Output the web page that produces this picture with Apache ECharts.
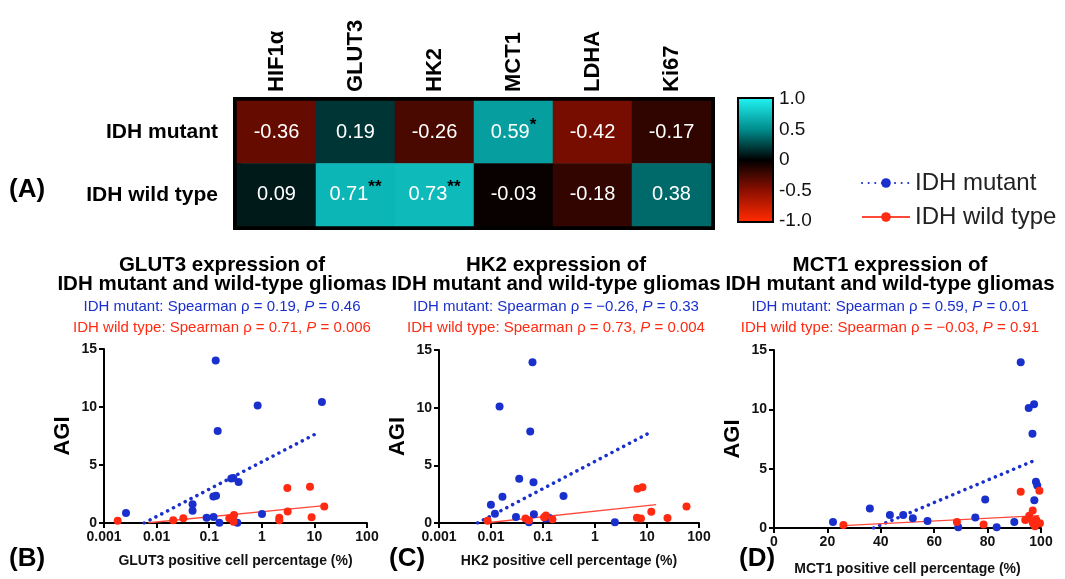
<!DOCTYPE html>
<html lang="en">
<head>
    <meta charset="UTF-8">
    <title>AGI correlations</title>
    <script src="https://cdn.jsdelivr.net/npm/echarts@6/dist/echarts.min.js"></script>
</head>
<body style="margin: 0; background: #fff">
<div id="container" style="width:1065px;height:579px;"></div>
<script>
    // heatmap (A)
    var genes = ['HIF1α', 'GLUT3', 'HK2', 'MCT1', 'LDHA', 'Ki67'];
    var groups = ['IDH mutant', 'IDH wild type'];
    var rhoMutant = [-0.36, 0.19, -0.26, 0.59, -0.42, -0.17];
    var rhoWild = [0.09, 0.71, 0.73, -0.03, -0.18, 0.38];
    var starsMutant = ['', '', '', '*', '', ''];
    var starsWild = ['', '**', '**', '', '', ''];

    // scatter panels: [positive cell %, AGI]
    var glut3Mutant = [[0.00262, 0.86], [0.0483, 1.61], [0.0483, 1.06], [0.0893, 0.46], [0.121, 0.52],
        [0.12, 2.29], [0.135, 2.35], [0.156, 0.03], [0.263, 3.84], [0.287, 3.87], [0.362, 3.53],
        [0.279, 0.40], [0.342, 0.03], [1.01, 0.77], [0.133, 14.0], [0.834, 10.12], [13.9, 10.44], [0.145, 7.94]];
    var glut3Wild = [[0.00182, 0.2], [0.0207, 0.23], [0.0322, 0.40], [0.241, 0.40], [0.296, 0.69],
        [0.29, 0.11], [2.15, 0.46], [2.15, 0.23], [3.06, 3.01], [3.1, 1.0], [8.24, 3.13], [8.85, 0.49], [15.4, 1.43]];
    var glut3FitMutant = [[0.0058, 0], [12.6, 7.86]];
    var glut3FitWild = [[0.007, 0.02], [15.4, 1.5]];

    var hk2Mutant = [[0.00996, 1.59], [0.0166, 2.28], [0.0119, 0.81], [0.0349, 3.84], [0.0656, 3.53],
        [0.0302, 0.52], [0.0668, 0.75], [0.0536, 0.06], [0.112, 0.40], [0.133, 0.43], [0.122, 0.45],
        [0.248, 2.34], [2.41, 0.06], [0.0146, 10.1], [0.0628, 13.93], [0.0568, 7.93]];
    var hk2Wild = [[0.0086, 0.2], [0.046, 0.40], [0.0536, 0.23], [0.114, 0.64], [0.152, 0.32], [0.105, 0.5],
        [6.56, 2.98], [8.18, 3.09], [6.4, 0.46], [7.64, 0.38], [12.1, 0.98], [24.8, 0.43], [57.5, 1.42]];
    var hk2FitMutant = [[0.0055, 0], [11.5, 7.85]];
    var hk2FitWild = [[0.0092, 0.04], [15.0, 1.59]];

    var mct1Mutant = [[22.1, 0.5], [35.9, 1.64], [43.4, 1.1], [48.4, 1.1], [52, 0.82], [57.5, 0.58],
        [69, 0.07], [75.4, 0.88], [79.1, 2.4], [83.4, 0.07], [90, 0.5], [92.4, 13.96], [95.4, 10.11],
        [97.4, 10.42], [96.8, 7.95], [98.1, 3.9], [98.6, 3.58], [97.5, 2.34]];
    var mct1Wild = [[26, 0.25], [68.5, 0.5], [78.5, 0.3], [92.4, 3.06], [94.1, 0.68], [95.6, 1.04],
        [96.9, 1.47], [96.8, 0.52], [97.1, 0.36], [97.75, 0.14], [99.4, 3.13], [99.6, 0.4], [98.2, 0.7]];
    var mct1FitMutant = [[37.3, 0], [98.3, 5.76]];
    var mct1FitWild = [[25.9, 0.2], [99.3, 1.04]];

    var panelTitles = ['GLUT3 expression of\nIDH mutant and wild-type gliomas',
        'HK2 expression of\nIDH mutant and wild-type gliomas',
        'MCT1 expression of\nIDH mutant and wild-type gliomas'];
    var statsMutant = [['0.19', '0.46'], ['\u22120.26', '0.33'], ['0.59', '0.01']];
    var statsWild = [['0.71', '0.006'], ['0.73', '0.004'], ['\u22120.03', '0.91']];
    var xNames = ['GLUT3 positive cell percentage (%)', 'HK2 positive cell percentage (%)',
        'MCT1 positive cell percentage (%)'];
    var logTicks = [0.001, 0.01, 0.1, 1, 10, 100];

    var BLUE = '#1a30cc';
    var RED = '#ff2a12';
    var FONT = 'Liberation Sans, Arial, sans-serif';
    var NARROW = 'Liberation Sans Narrow, Liberation Sans, Arial, sans-serif';

    var heatData = [];
    genes.forEach(function (g, i) {
        heatData.push([i, 0, rhoMutant[i]]);
        heatData.push([i, 1, rhoWild[i]]);
    });

    function heatLabel(p) {
        var s = (p.value[1] === 0 ? starsMutant : starsWild)[p.value[0]];
        var t = '{v|' + p.value[2].toFixed(2) + '}';
        return s ? t + '{s|' + s + '}' : t;
    }

    var dom = document.getElementById('container');
    var myChart = echarts.init(dom, null, { renderer: 'canvas' });

    var titles = [];
    var centers = [217, 551, 885];
    panelTitles.forEach(function (t, i) {
        titles.push({
            text: t,
            left: centers[i],
            top: 251,
            textAlign: 'center',
            itemGap: 0,
            textStyle: { fontFamily: FONT, fontSize: 20.5, fontWeight: 'bold', lineHeight: 19, color: '#000' },
            subtext: '{b|IDH mutant: Spearman ρ = ' + statsMutant[i][0] + ', }{bi|P}{b| = ' + statsMutant[i][1] + '}\n' +
                '{r|IDH wild type: Spearman ρ = ' + statsWild[i][0] + ', }{ri|P}{r| = ' + statsWild[i][1] + '}',
            subtextStyle: {
                lineHeight: 21,
                rich: {
                    b: { color: BLUE, fontSize: 15, fontFamily: FONT, lineHeight: 21 },
                    bi: { color: BLUE, fontSize: 15, fontFamily: FONT, fontStyle: 'italic', lineHeight: 21 },
                    r: { color: RED, fontSize: 15, fontFamily: FONT, lineHeight: 21 },
                    ri: { color: RED, fontSize: 15, fontFamily: FONT, fontStyle: 'italic', lineHeight: 21 }
                }
            }
        });
    });
    [['(A)', 4, 172], ['(B)', 4, 541], ['(C)', 384, 541], ['(D)', 734, 541]].forEach(function (l) {
        titles.push({
            text: l[0], left: l[1], top: l[2],
            textStyle: { fontFamily: FONT, fontSize: 26, fontWeight: 'bold', color: '#000' }
        });
    });

    var scatterGrids = [
        { left: 104, top: 349, width: 263, height: 174 },
        { left: 439, top: 350, width: 260, height: 173 },
        { left: 774, top: 350, width: 267, height: 178 }
    ];

    function valueAxisStyle() {
        return {
            axisLine: { show: true, onZero: false, lineStyle: { color: '#000', width: 2 } },
            axisTick: { show: true, length: 5, lineStyle: { color: '#000', width: 2 } },
            axisLabel: { fontFamily: FONT, fontSize: 14, fontWeight: 'bold', color: '#111', margin: 7 },
            splitLine: { show: false }
        };
    }

    var xAxes = [
        {
            type: 'category', gridIndex: 0, data: genes, position: 'top',
            axisLine: { show: false }, axisTick: { show: false },
            axisLabel: { rotate: -90, margin: 9, fontFamily: NARROW, fontSize: 22, fontWeight: 'bold', color: '#000' }
        },
        { type: 'category', gridIndex: 1, data: ['cb'], show: false }
    ];
    var yAxes = [
        {
            type: 'category', gridIndex: 0, data: groups, inverse: true,
            axisLine: { show: false }, axisTick: { show: false },
            axisLabel: { margin: 19, fontFamily: NARROW, fontSize: 21, fontWeight: 'bold', color: '#000' }
        },
        {
            type: 'value', gridIndex: 1, position: 'right', min: -1, max: 1, interval: 0.5,
            axisLine: { show: false },
            axisTick: { show: true, inside: true, length: 5, lineStyle: { color: '#000', width: 2 } },
            axisLabel: {
                margin: 7, fontFamily: FONT, fontSize: 19, color: '#111',
                formatter: function (v) { return v === 0 ? '0' : v.toFixed(1); }
            },
            splitLine: { show: false }
        }
    ];

    scatterGrids.forEach(function (g, i) {
        var xa = valueAxisStyle();
        xa.gridIndex = i + 2;
        xa.name = xNames[i];
        xa.nameLocation = 'middle';
        xa.nameGap = 31;
        xa.nameTextStyle = { fontFamily: FONT, fontSize: 14, fontWeight: 'bold', color: '#111' };
        if (i < 2) {
            xa.type = 'log';
            xa.logBase = 10;
            xa.min = 0.001;
            xa.max = 100;
            xa.axisLabel.formatter = function (v) {
                var e = Math.round(Math.log10(v));
                return String(logTicks[e + 3]);
            };
        } else {
            xa.type = 'value';
            xa.min = 0;
            xa.max = 100;
            xa.interval = 20;
            xa.nameGap = 34;
        }
        xAxes.push(xa);

        var ya = valueAxisStyle();
        ya.gridIndex = i + 2;
        ya.type = 'value';
        ya.min = 0;
        ya.max = 15;
        ya.interval = 5;
        ya.name = 'AGI';
        ya.nameLocation = 'middle';
        ya.nameGap = 30;
        ya.nameTextStyle = { fontFamily: FONT, fontSize: 22, fontWeight: 'bold', color: '#000' };
        yAxes.push(ya);
    });

    var series = [
        {
            type: 'heatmap', xAxisIndex: 0, yAxisIndex: 0, data: heatData,
            label: {
                show: true, formatter: heatLabel,
                rich: {
                    v: { color: '#fff', fontFamily: NARROW, fontSize: 20 },
                    s: { color: '#000', fontFamily: FONT, fontSize: 17, fontWeight: 'bold', padding: [0, 0, 14, 0] }
                }
            },
            emphasis: { disabled: true }
        },
        {
            type: 'bar', xAxisIndex: 1, yAxisIndex: 1, stack: 'cb', barWidth: '100%', data: [1], silent: true,
            itemStyle: {
                color: new echarts.graphic.LinearGradient(0, 0, 0, 1, [
                    { offset: 0, color: '#20f0f0' }, { offset: 0.5, color: '#008c8c' }, { offset: 1, color: '#000' }])
            }
        },
        {
            type: 'bar', xAxisIndex: 1, yAxisIndex: 1, stack: 'cb', barWidth: '100%', data: [-1], silent: true,
            itemStyle: {
                color: new echarts.graphic.LinearGradient(0, 0, 0, 1, [
                    { offset: 0, color: '#000' }, { offset: 0.5, color: '#8c0f00' }, { offset: 1, color: '#ff2a00' }])
            }
        }
    ];

    var panels = [
        [glut3FitMutant, glut3FitWild, glut3Mutant, glut3Wild],
        [hk2FitMutant, hk2FitWild, hk2Mutant, hk2Wild],
        [mct1FitMutant, mct1FitWild, mct1Mutant, mct1Wild]
    ];
    panels.forEach(function (p, i) {
        var ax = i + 2;
        series.push({
            type: 'line', name: 'IDH mutant', xAxisIndex: ax, yAxisIndex: ax, data: p[0],
            symbol: 'circle', symbolSize: 9, showSymbol: false, silent: true, z: 3,
            itemStyle: { color: BLUE },
            lineStyle: { color: BLUE, width: 3.5, type: [0.1, 6.5], cap: 'round' }
        });
        series.push({
            type: 'line', name: 'IDH wild type', xAxisIndex: ax, yAxisIndex: ax, data: p[1],
            symbol: 'circle', symbolSize: 9, showSymbol: false, silent: true, z: 3,
            itemStyle: { color: RED },
            lineStyle: { color: '#ff4a3a', width: 1.4 }
        });
        series.push({
            type: 'scatter', name: 'IDH mutant', xAxisIndex: ax, yAxisIndex: ax, data: p[2],
            symbolSize: 8, itemStyle: { color: BLUE, opacity: 1 }, z: 4
        });
        series.push({
            type: 'scatter', name: 'IDH wild type', xAxisIndex: ax, yAxisIndex: ax, data: p[3],
            symbolSize: 8, itemStyle: { color: RED, opacity: 1 }, z: 4
        });
    });

    var option = {
        animation: false,
        title: titles,
        grid: [
            { left: 237, top: 101, width: 474, height: 125, show: true, borderColor: '#000', borderWidth: 8 },
            { left: 739, top: 99, width: 33, height: 122, show: true, borderColor: '#000', borderWidth: 4 }
        ].concat(scatterGrids),
        visualMap: {
            show: false, type: 'continuous', seriesIndex: 0, min: -1, max: 1,
            inRange: { color: ['#ff2a00', '#8c0f00', '#000000', '#008c8c', '#20f0f0'] }
        },
        legend: {
            data: ['IDH mutant', 'IDH wild type'],
            orient: 'vertical', left: 856, top: 166, itemGap: 10,
            itemWidth: 48, itemHeight: 12, selectedMode: false,
            textStyle: { fontFamily: FONT, fontSize: 24, color: '#222' }
        },
        xAxis: xAxes,
        yAxis: yAxes,
        series: series
    };

    if (option && typeof option === 'object') {
        myChart.setOption(option);
    }
</script>
</body>
</html>
